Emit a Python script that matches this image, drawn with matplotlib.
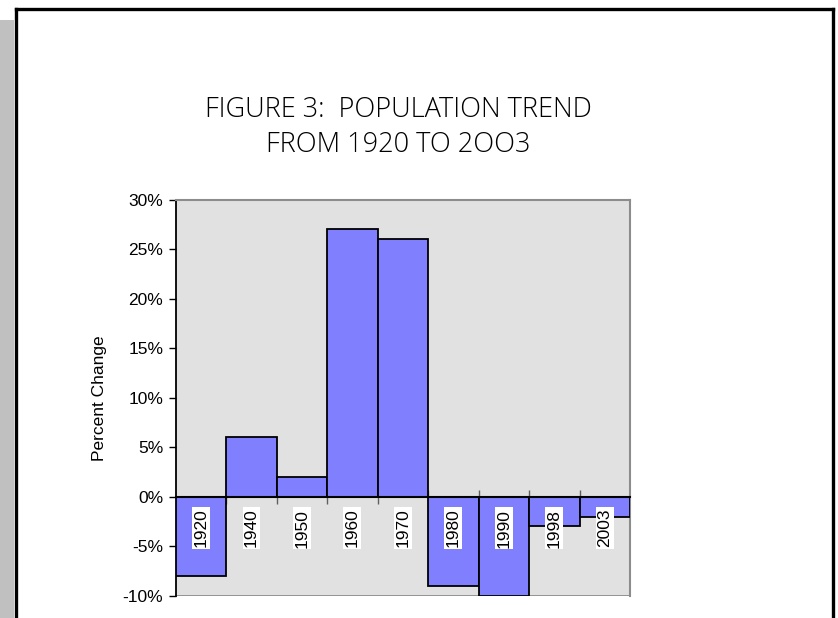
import matplotlib
matplotlib.use('Agg')
import matplotlib.pyplot as plt
from matplotlib.lines import Line2D
from matplotlib.patches import Rectangle
from matplotlib.ticker import PercentFormatter, FixedLocator

years = ['1920', '1940', '1950', '1960', '1970', '1980', '1990', '1998', '2003']
pct_change = [-0.08, 0.06, 0.02, 0.27, 0.26, -0.09, -0.10, -0.03, -0.02]

TITLE = 'FIGURE 3:  POPULATION TREND\nFROM 1920 TO 2OO3'

plt.rcParams['font.family'] = ['Liberation Sans', 'DejaVu Sans']
plt.rcParams['axes.unicode_minus'] = False

fig = plt.figure(figsize=(8.38, 6.18), dpi=100)
W, H = 838, 618

# page decoration: grey strip on the left and black frame
fig.add_artist(Rectangle((0, 0), 14 / W, 1 - 20 / H, transform=fig.transFigure,
                         facecolor='#c0c0c0', edgecolor='none'))
frame_kw = dict(transform=fig.transFigure, color='black', linewidth=2.4,
                solid_capstyle='projecting')
fig.add_artist(Line2D([15.5 / W, 832.5 / W], [1 - 9 / H, 1 - 9 / H], **frame_kw))
fig.add_artist(Line2D([15.5 / W, 15.5 / W], [0, 1 - 9 / H], **frame_kw))
fig.add_artist(Line2D([832.5 / W, 832.5 / W], [0, 1 - 9 / H], **frame_kw))

ax = fig.add_axes([175.7 / W, 1 - 595.7 / H, (630 - 175.7) / W, (595.7 - 199.7) / H])
ax.set_facecolor('#e1e1e1')

x = list(range(len(years)))
ax.bar(x, pct_change, width=1.0, color='#8080ff', edgecolor='black',
       linewidth=1.3, zorder=3)

ax.set_xlim(-0.5, len(years) - 0.5)
ax.set_ylim(-0.10, 0.30)
ax.yaxis.set_major_locator(FixedLocator([-0.10, -0.05, 0, 0.05, 0.10, 0.15, 0.20, 0.25, 0.30]))
ax.yaxis.set_major_formatter(PercentFormatter(1.0, decimals=0))
ax.tick_params(axis='y', direction='out', length=5, width=1, colors='black',
               labelsize=12.5, pad=4)

# category axis crosses at zero
ax.spines['bottom'].set_position(('data', 0))
ax.spines['bottom'].set_color('black')
ax.spines['bottom'].set_linewidth(1.5)
ax.spines['bottom'].set_zorder(4)
ax.set_xticks([i + 0.5 for i in range(len(years) - 1)])
ax.set_xticklabels([])
ax.tick_params(axis='x', direction='inout', length=10, width=1, color='#606060')

ax.spines['left'].set_color('black')
ax.spines['left'].set_linewidth(1.3)
for side in ['top', 'right']:
    ax.spines[side].set_color('#8c8c8c')
    ax.spines[side].set_linewidth(1.5)
ax.axhline(-0.10, color='#8c8c8c', linewidth=2, zorder=2)

for i, yr in enumerate(years):
    ax.annotate(yr, xy=(i, 0), xytext=(0, -12), textcoords='offset pixels',
                rotation=90, ha='center', va='top', fontsize=12.5, zorder=6,
                bbox=dict(facecolor='white', edgecolor='none', pad=1))

ax.set_ylabel('Percent Change', fontsize=12.5, labelpad=11)

fig.text(398 / W, 1 - 96 / H, TITLE, ha='center', va='top', fontsize=19.5,
         family=['Open Sans', 'DejaVu Sans'], weight='light', linespacing=1.33)

fig.savefig('out.png', dpi=100)
